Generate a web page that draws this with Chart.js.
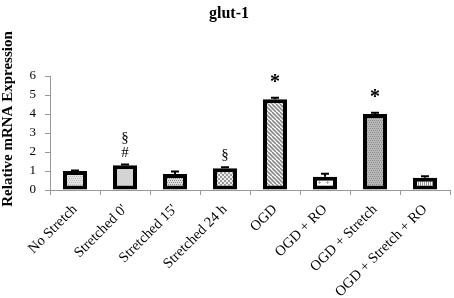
<!DOCTYPE html>
<html><head><meta charset="utf-8">
<script src="https://cdn.jsdelivr.net/npm/chart.js@4/dist/chart.umd.min.js"></script>
<style>html,body{margin:0;padding:0;background:#fff}#c{display:block}</style>
</head><body>
<canvas id="c" width="454" height="298"></canvas>
<script>
const categories = ["No Stretch","Stretched 0'","Stretched 15'","Stretched 24 h","OGD","OGD + RO","OGD + Stretch","OGD + Stretch + RO"];
const values = [1.0, 1.3, 0.84, 1.15, 4.78, 0.7, 4.0, 0.65];
const errors = [0.02, 0.04, 0.13, 0.05, 0.07, 0.15, 0.06, 0.07];
const marks = ["", "§\n#", "", "§", "*", "", "*", ""];
const yTicks = [0,1,2,3,4,5,6];

function pat(kind){
  const s = 8, c = document.createElement('canvas'); c.width = s; c.height = s;
  const g = c.getContext('2d');
  const fill = (col)=>{g.fillStyle=col; g.fillRect(0,0,s,s);};
  if(kind===0){ fill('#e2e2e2'); g.fillStyle='#bdbdbd'; for(let y=0;y<s;y+=2)for(let x=(y/2)%2;x<s;x+=2)g.fillRect(x,y,1,1); }
  else if(kind===1){ fill('#d4d4d4'); }
  else if(kind===2){ fill('#dcdcdc'); g.fillStyle='#8a8a8a'; for(let y=0;y<s;y+=2)for(let x=(y/2)%2;x<s;x+=2)g.fillRect(x,y,1,1); }
  else if(kind===3){ fill('#eeeeee'); g.fillStyle='#9a9a9a'; g.fillRect(0,0,2,2); g.fillRect(4,0,2,2); g.fillRect(2,2,2,2); g.fillRect(6,2,2,2); g.fillRect(0,4,2,2); g.fillRect(4,4,2,2); g.fillRect(2,6,2,2); g.fillRect(6,6,2,2); }
  else if(kind===4){ fill('#ffffff'); g.strokeStyle='#8a8a8a'; g.lineWidth=1.6; for(let k=-s;k<=2*s;k+=4){g.beginPath();g.moveTo(k,0);g.lineTo(k+s,s);g.stroke();} }
  else if(kind===5){ fill('#ffffff'); g.fillStyle='#b0b0b0'; g.fillRect(3,1,1,3); g.fillRect(2,2,3,1); g.fillRect(7,5,1,3); g.fillRect(6,6,2,1); g.fillRect(0,6,1,1);}
  else if(kind===6){ fill('#b8b8b8'); g.fillStyle='#8c8c8c'; for(let y=0;y<s;y+=2)for(let x=(y/2)%2;x<s;x+=2)g.fillRect(x,y,1,1); }
  else if(kind===7){ fill('#ffffff'); g.fillStyle='#9a9a9a'; g.fillRect(0,0,1,s); g.fillRect(2,0,1,s); g.fillRect(4,0,1,s); g.fillRect(6,0,1,s); }
  return document.getElementById('c').getContext('2d').createPattern(c,'repeat');
}
const fills = categories.map((_,i)=>pat(i));

const overlay = {
  id:'overlay',
  afterDatasetsDraw(chart){
    const ctx = chart.ctx, x = chart.scales.x, y = chart.scales.y;
    ctx.save();
    // error bars
    ctx.strokeStyle = '#000'; ctx.lineWidth = 2;
    values.forEach((v,i)=>{
      const cx = x.getPixelForValue(i);
      const yt = y.getPixelForValue(v + errors[i]), yb = y.getPixelForValue(v);
      ctx.beginPath(); ctx.moveTo(cx, yb); ctx.lineTo(cx, yt);
      ctx.moveTo(cx-4, yt); ctx.lineTo(cx+4, yt); ctx.stroke();
    });
    // marks
    ctx.fillStyle = '#000'; ctx.textAlign = 'center'; ctx.textBaseline = 'alphabetic';
    marks.forEach((m,i)=>{
      if(!m) return;
      const cx = x.getPixelForValue(i);
      const top = y.getPixelForValue(values[i] + errors[i]);
      if(m==='*'){
        ctx.font = 'bold 20px "Liberation Serif"';
        ctx.fillText('*', cx, top - 20 + 10);
        return;
      }
      let yy = top - 8;
      m.split('\n').reverse().forEach(t=>{
        ctx.font = '15px "Liberation Serif"'; ctx.fillText(t, cx, yy); yy -= 15;
      });
    });
    // title
    ctx.font = 'bold 16px "Liberation Serif"';
    ctx.fillText('glut-1', 229, 18);
    // y title
    ctx.translate(8, 119); ctx.rotate(-Math.PI/2);
    ctx.font = 'bold 15px "Liberation Serif"';
    ctx.textBaseline = 'middle';
    ctx.fillText('Relative mRNA Expression', 0, 0);
    ctx.restore();
  }
};

new Chart(document.getElementById('c'), {
  type:'bar',
  data:{ labels:categories, datasets:[{ data:values, backgroundColor:fills, borderColor:'#000', borderWidth:4, borderSkipped:false, barPercentage:0.48, categoryPercentage:1 }]},
  options:{
    responsive:false, animation:false, devicePixelRatio:1,
    layout:{ padding:{ top:76, right:4, left:0, bottom:0 } },
    plugins:{ legend:{display:false}, tooltip:{enabled:false}, title:{display:false} },
    scales:{
      x:{
        grid:{ display:true, offset:true, drawOnChartArea:false, color:'#999', tickLength:5 },
        border:{ color:'#999', width:1 },
        ticks:{ font:{ family:'"Liberation Serif"', size:14.5 }, color:'#000', maxRotation:45, minRotation:45, padding:6, autoSkip:false },
        afterFit(s){ s.height = 108; }
      },
      y:{
        min:0, max:6,
        afterBuildTicks(s){ s.ticks = yTicks.map(v=>({value:v})); },
        grid:{ display:true, drawOnChartArea:false, color:'#999', tickLength:5 },
        border:{ color:'#999', width:1 },
        ticks:{ font:{ family:'"Liberation Serif"', size:13 }, color:'#000', padding:9 },
        afterFit(s){ s.width = 50; }
      }
    }
  },
  plugins:[overlay]
});
</script>
</body></html>
